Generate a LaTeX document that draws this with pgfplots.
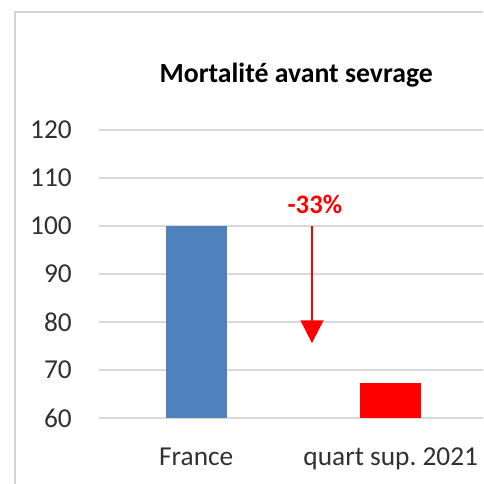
\documentclass[border=0pt]{standalone}
\usepackage{pgfplots}
\pgfplotsset{compat=1.18}
\usetikzlibrary{arrows.meta}
\usepackage{fontspec}
\setmainfont{Carlito}
\frenchspacing
\definecolor{barblue}{HTML}{4F81BD}
\definecolor{gridgray}{HTML}{D9D9D9}
\definecolor{framegray}{HTML}{D4D4D4}
\definecolor{txt}{HTML}{303030}
\begin{document}
\begin{tikzpicture}
\path[use as bounding box] (0,0) rectangle (362.25pt,363pt);
\clip (0,0) rectangle (362.25pt,363pt);
\draw[framegray, line width=2.2pt] (11.25pt,-5pt) -- (11.25pt,354pt) -- (370pt,354pt);
\begin{axis}[
  at={(74.25pt,49.5pt)}, anchor=south west,
  scale only axis, width=291.75pt, height=216pt,
  xmin=-0.5, xmax=1.5, ymin=60, ymax=120,
  ytick={60,70,...,120},
  xtick={0,1}, xticklabels={France, quart sup. 2021},
  axis line style={draw=none},
  major tick length=0pt,
  ymajorgrids, grid style={gridgray, line width=1.5pt},
  tick label style={font=\fontsize{20.5}{24}\selectfont, text=txt},
  /pgf/number format/assume math mode=true,
  yticklabel style={anchor=east, inner sep=0pt, xshift=-20.25pt},
  xticklabel style={anchor=base, inner sep=0pt, yshift=-35.25pt},
  title={Mortalité avant sevrage},
  title style={at={(0.5,1)}, anchor=center, yshift=35.25pt, xshift=2pt, font=\fontsize{20.8}{24}\selectfont\bfseries, text=black},
  clip=false,
]
\addplot[ybar, bar width=45.75pt, fill=barblue, draw=none] coordinates {(0,100)};
\addplot[ybar, bar width=45.75pt, fill=red, draw=none] coordinates {(1,67.3)};
\draw[red, line width=1.4pt, -{Triangle[width=17pt,length=17pt]}] (axis cs:0.595,100) -- (axis cs:0.595,75.6);
\node[text=red, font=\fontsize{20}{24}\selectfont\bfseries] at (axis cs:0.61,104.6) {-33\%};
\end{axis}
\end{tikzpicture}
\end{document}
